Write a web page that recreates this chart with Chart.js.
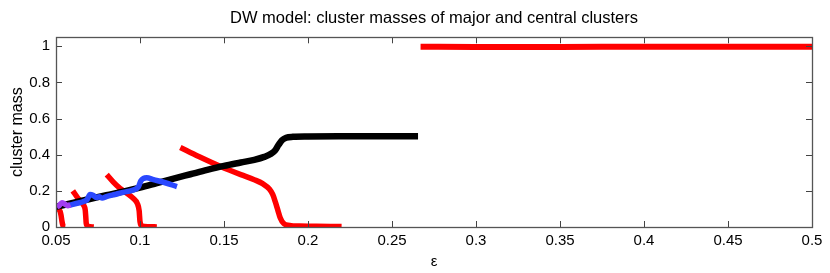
<!DOCTYPE html>
<html>
<head>
<meta charset="utf-8">
<script src="https://cdn.jsdelivr.net/npm/chart.js@4/dist/chart.umd.min.js"></script>
<style>
  html, body { margin: 0; padding: 0; background: #fff; }
  #wrap { width: 830px; height: 273px; }
</style>
</head>
<body>
<div id="wrap"><canvas id="c" width="830" height="273"></canvas></div>
<script>
// ---- data ----
const xTicks = [0.05, 0.1, 0.15, 0.2, 0.25, 0.3, 0.35, 0.4, 0.45, 0.5];
const xTickLabels = ['0.05', '0.1', '0.15', '0.2', '0.25', '0.3', '0.35', '0.4', '0.45', '0.5'];
const yTicks = [0, 0.2, 0.4, 0.6, 0.8, 1];
const yTickLabels = ['0', '0.2', '0.4', '0.6', '0.8', '1'];

const red1X = [0.0505, 0.0515, 0.0525, 0.053, 0.0535, 0.054, 0.0545, 0.0555];
const red1Y = [0.125, 0.10, 0.085, 0.065, 0.035, 0.012, 0.002, 0.0];

const red2X = [0.0600, 0.0630, 0.0665, 0.0674, 0.0677, 0.0680, 0.0690, 0.0725];
const red2Y = [0.200, 0.160, 0.120, 0.094, 0.060, 0.020, 0.004, 0.0];

const red3X = [0.0802, 0.0840, 0.0881, 0.0920, 0.0960, 0.0985, 0.0995, 0.1000, 0.1010, 0.1050, 0.1100];
const red3Y = [0.290, 0.250, 0.214, 0.188, 0.158, 0.128, 0.090, 0.030, 0.006, 0.002, 0.0];

const red4X = [0.124, 0.135, 0.148, 0.160, 0.168, 0.173, 0.177, 0.179, 0.1805, 0.182, 0.1835, 0.1855, 0.189, 0.195, 0.205, 0.220];
const red4Y = [0.440, 0.390, 0.335, 0.290, 0.262, 0.240, 0.210, 0.180, 0.140, 0.095, 0.050, 0.020, 0.009, 0.005, 0.004, 0.003];

const red5X = [0.2670, 0.30, 0.35, 0.40, 0.45, 0.50];
const red5Y = [0.998, 0.997, 0.997, 0.998, 0.998, 0.998];

const blackX = [0.050, 0.060, 0.070, 0.080, 0.090, 0.100, 0.110, 0.120, 0.130, 0.140, 0.150, 0.160, 0.168, 0.174, 0.178, 0.1805, 0.1825, 0.1845, 0.187, 0.191, 0.200, 0.220, 0.2655];
const blackY = [0.112, 0.133, 0.155, 0.176, 0.196, 0.218, 0.243, 0.268, 0.292, 0.316, 0.338, 0.357, 0.372, 0.388, 0.405, 0.425, 0.455, 0.480, 0.494, 0.499, 0.501, 0.502, 0.502];

const blueX = [0.058, 0.062, 0.066, 0.0685, 0.0703, 0.0720, 0.0740, 0.0757, 0.0775, 0.0800, 0.0850, 0.0900, 0.0960, 0.0990, 0.1005, 0.1020, 0.1040, 0.1080, 0.1150, 0.1220];
const blueY = [0.120, 0.130, 0.140, 0.152, 0.180, 0.176, 0.163, 0.167, 0.160, 0.168, 0.180, 0.192, 0.205, 0.222, 0.255, 0.269, 0.272, 0.262, 0.245, 0.224];

const purpleX = [0.0505, 0.0520, 0.0535, 0.0550, 0.0570, 0.0585];
const purpleY = [0.110, 0.120, 0.134, 0.129, 0.118, 0.124];

const titleText = 'DW model: cluster masses of major and central clusters';
const xLabel = 'ε';
const yLabel = 'cluster mass';

// ---- build ----
function pts(xs, ys) { return xs.map((x, i) => ({ x: x, y: ys[i] })); }
const FONT = '"Liberation Sans", Arial, Helvetica, sans-serif';

function ds(xs, ys, color, width) {
  return {
    data: pts(xs, ys),
    borderColor: color,
    backgroundColor: color,
    borderWidth: width,
    pointRadius: 0,
    fill: false,
    cubicInterpolationMode: 'monotone',
    borderJoinStyle: 'round'
  };
}

const datasets = [
  ds(purpleX, purpleY, '#a23df2', 5.5),
  ds(blueX, blueY, '#2a48ff', 5.5),
  ds(blackX, blackY, '#000000', 6.5),
  ds(red1X, red1Y, '#ff0000', 5.5),
  ds(red2X, red2Y, '#ff0000', 5.5),
  ds(red3X, red3Y, '#ff0000', 5.5),
  ds(red4X, red4Y, '#ff0000', 5.5),
  ds(red5X, red5Y, '#ff0000', 6)
];

const boxPlugin = {
  id: 'boxTicks',
  afterDraw(chart) {
    const { ctx, chartArea: a, scales } = chart;
    const xs = scales.x, ys = scales.y;
    ctx.save();
    ctx.strokeStyle = '#444';
    ctx.lineWidth = 1;
    const L = 6;
    ctx.beginPath();
    xTicks.forEach(v => {
      const px = Math.round(xs.getPixelForValue(v)) + 0.5;
      ctx.moveTo(px, a.bottom); ctx.lineTo(px, a.bottom - L);
      ctx.moveTo(px, a.top); ctx.lineTo(px, a.top + L);
    });
    yTicks.forEach(v => {
      const py = Math.round(ys.getPixelForValue(v)) + 0.5;
      ctx.moveTo(a.left, py); ctx.lineTo(a.left + L, py);
      ctx.moveTo(a.right, py); ctx.lineTo(a.right - L, py);
    });
    ctx.stroke();
    ctx.strokeStyle = '#555';
    ctx.lineWidth = 1.3;
    ctx.strokeRect(Math.round(a.left) + 0.5, Math.round(a.top) + 0.5,
      Math.round(a.right - a.left), Math.round(a.bottom - a.top));
    ctx.restore();
  }
};

new Chart(document.getElementById('c'), {
  type: 'line',
  data: { datasets: datasets },
  options: {
    responsive: false,
    animation: false,
    events: [],
    layout: { padding: { left: 0, right: 18, top: 0, bottom: 0 } },
    plugins: {
      legend: { display: false },
      tooltip: { enabled: false },
      title: {
        display: true,
        fullSize: false,
        text: titleText,
        color: '#000',
        font: { family: FONT, size: 16.5, weight: 'normal' },
        padding: { top: 9, bottom: 8.5 }
      }
    },
    scales: {
      x: {
        type: 'linear',
        min: 0.05, max: 0.5,
        afterBuildTicks(s) { s.ticks = xTicks.map(v => ({ value: v })); },
        afterFit(s) { s.height = 46; },
        grid: { display: false, drawTicks: false },
        border: { display: false },
        ticks: {
          color: '#000',
          padding: 5,
          maxRotation: 0,
          autoSkip: false,
          font: { family: FONT, size: 15 },
          callback(v, i) { return xTickLabels[i]; }
        },
        title: {
          display: true, text: xLabel, color: '#000',
          font: { family: FONT, size: 15 },
          padding: { top: 0, bottom: 2 }
        }
      },
      y: {
        type: 'linear',
        min: 0, max: 1.05,
        afterBuildTicks(s) { s.ticks = yTicks.map(v => ({ value: v })); },
        afterFit(s) { s.width = 56; },
        grid: { display: false, drawTicks: false },
        border: { display: false },
        ticks: {
          color: '#000',
          padding: 6,
          autoSkip: false,
          font: { family: FONT, size: 15 },
          callback(v, i) { return yTickLabels[i]; }
        },
        title: {
          display: true, text: yLabel, color: '#000',
          font: { family: FONT, size: 16 },
          padding: { top: 8, bottom: 0 }
        }
      }
    }
  },
  plugins: [boxPlugin]
});
</script>
</body>
</html>
